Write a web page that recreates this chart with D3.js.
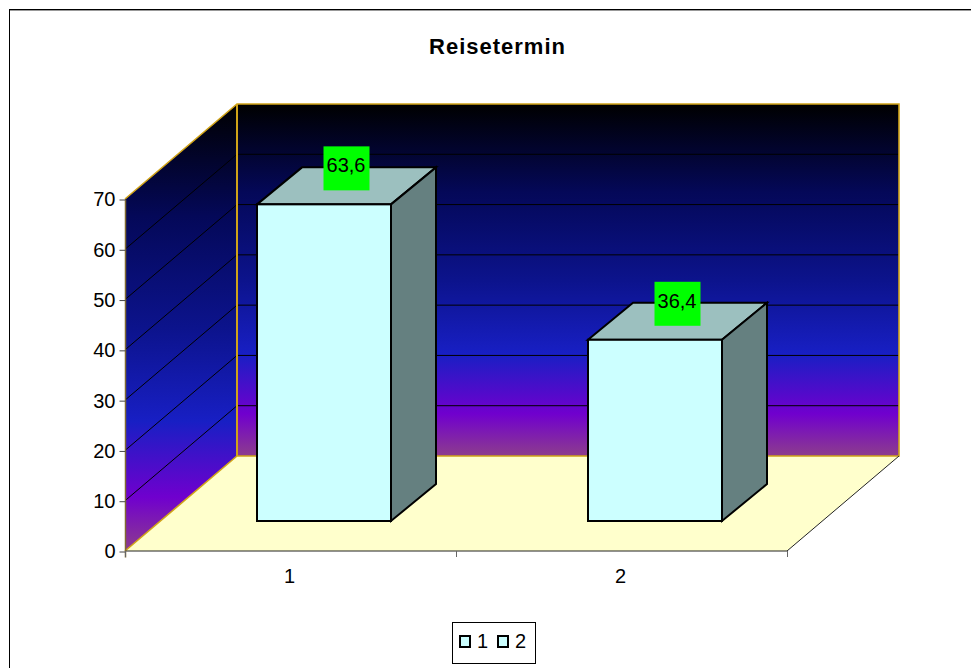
<!DOCTYPE html>
<html>
<head>
<meta charset="utf-8">
<script src="https://cdn.jsdelivr.net/npm/d3@7"></script>
<style>
  html, body { margin: 0; padding: 0; background: #fff; overflow: hidden; }
  text { font-family: "Liberation Sans", Arial, sans-serif; fill: #000; }
</style>
</head>
<body>
<script>
const chartTitle = 'Reisetermin';
const categories = ['1', '2'];
const values = [63.6, 36.4];
const valueLabels = ['63,6', '36,4'];
const yTicks = [0, 10, 20, 30, 40, 50, 60, 70];
const legendItems = ['1', '2'];

const width = 971;
const height = 668;

// projection of the box: front edge + depth offset to the back wall
const depthX = 112;
const depthY = -95;
const barDepthX = 45;
const barDepthY = -37;
const gold = '#d0a318';

const svg = d3.select('body').append('svg')
  .attr('width', width)
  .attr('height', height);

const defs = svg.append('defs');
const wall = defs.append('linearGradient')
  .attr('id', 'wall')
  .attr('x1', 0).attr('y1', 0).attr('x2', 0).attr('y2', 1);
[
  [0, '#000000'],
  [0.25, '#040858'],
  [0.5, '#0c138c'],
  [0.71, '#181fc4'],
  [0.88, '#7000ce'],
  [1, '#8d3d8d'],
].forEach(([o, c]) => wall.append('stop').attr('offset', o).attr('stop-color', c));

// outer frame runs off the right and bottom of the page
svg.append('rect')
  .attr('x', 9.5).attr('y', 9.5)
  .attr('width', 1000).attr('height', 700)
  .attr('fill', '#fff').attr('stroke', '#000');
svg.append('line')
  .attr('x1', 10).attr('x2', width)
  .attr('y1', 10.5).attr('y2', 10.5)
  .attr('stroke', '#999');

svg.append('text')
  .attr('x', 497.5).attr('y', 53.5)
  .attr('text-anchor', 'middle')
  .attr('font-size', 22).attr('font-weight', 'bold')
  .attr('letter-spacing', 1)
  .text(chartTitle);

const x = d3.scaleBand().domain(categories).range([125, 787]);
const y = d3.scaleLinear().domain([0, 70]).range([551, 199]);
const bar = d3.scaleLinear().domain([0, 70]).range([521, 172.5]);
const line = d3.line();

const x0 = x.range()[0];
const x1 = x.range()[1];
const g = svg.append('g');

// back wall, side wall, floor
g.append('path')
  .attr('d', line([
    [x0 + depthX, y(70) + depthY],
    [x1 + depthX, y(70) + depthY],
    [x1 + depthX, y(0) + depthY],
    [x0 + depthX, y(0) + depthY],
  ]) + 'Z')
  .attr('fill', 'url(#wall)');
g.append('path')
  .attr('d', line([
    [x0, y(70)],
    [x0 + depthX, y(70) + depthY],
    [x0 + depthX, y(0) + depthY],
    [x0, y(0)],
  ]) + 'Z')
  .attr('fill', 'url(#wall)');
g.append('path')
  .attr('d', line([
    [x0, y(0)],
    [x0 + depthX, y(0) + depthY],
    [x1 + depthX, y(0) + depthY],
    [x1, y(0)],
  ]) + 'Z')
  .attr('fill', '#ffffcc');

// gridlines
yTicks.filter((t) => t > 0 && t < 70).forEach((t) => {
  g.append('path')
    .attr('d', line([
      [x0, y(t)],
      [x0 + depthX, y(t) + depthY],
      [x1 + depthX, y(t) + depthY],
    ]))
    .attr('fill', 'none').attr('stroke', '#000').attr('stroke-width', 1);
});

// wall outline
g.append('path')
  .attr('d', line([
    [x0, y(70)],
    [x0 + depthX, y(70) + depthY],
    [x1 + depthX, y(70) + depthY],
    [x1 + depthX, y(0) + depthY],
    [x0 + depthX, y(0) + depthY],
    [x0, y(0)],
  ]))
  .attr('fill', 'none').attr('stroke', gold).attr('stroke-width', 1.6);
g.append('path')
  .attr('d', line([
    [x0 + depthX, y(70) + depthY],
    [x0 + depthX, y(0) + depthY],
  ]))
  .attr('stroke', gold).attr('stroke-width', 2);

// floor front and right edges
g.append('path')
  .attr('d', line([
    [x0, y(0)],
    [x1, y(0)],
    [x1 + depthX, y(0) + depthY],
  ]))
  .attr('fill', 'none').attr('stroke', '#222').attr('stroke-width', 1);

// y axis and category axis ticks
const yAxis = d3.axisLeft(y).tickValues(yTicks).tickSize(6).tickPadding(4);
const yG = svg.append('g').attr('transform', 'translate(125.5,0.5)').call(yAxis);
yG.select('.domain').attr('stroke', '#806a30').attr('stroke-width', 1.5).attr('d', `M0,${y(70)}V${y(0) + 6}`);
yG.selectAll('.tick line').attr('stroke', '#444');
yG.selectAll('text').attr('font-size', 20).attr('font-family', '"Liberation Sans", Arial, sans-serif');

const xAxis = d3.axisBottom(x).tickSize(0).tickPadding(17);
const xG = svg.append('g').attr('transform', `translate(0.5,${y(0) + 0.5})`).call(xAxis);
xG.select('.domain').remove();
xG.selectAll('text').attr('font-size', 20).attr('dx', -1.5).attr('font-family', '"Liberation Sans", Arial, sans-serif');
svg.append('g').selectAll('line').data([x0, x0 + x.step(), x1]).enter().append('line')
  .attr('x1', (d) => d + 0.5).attr('x2', (d) => d + 0.5)
  .attr('y1', y(0)).attr('y2', y(0) + 6)
  .attr('stroke', '#666');

// bars
const bars = svg.append('g').selectAll('g').data(values).enter().append('g');
const barLeft = 132;
const barW = 134;
const barX = (i) => x(categories[i]) + barLeft;

bars.append('path')
  .attr('d', (d, i) => line([
    [barX(i), bar(d)],
    [barX(i) + barDepthX, bar(d) + barDepthY],
    [barX(i) + barW + barDepthX, bar(d) + barDepthY],
    [barX(i) + barW, bar(d)],
  ]) + 'Z')
  .attr('fill', '#9cc0bf').attr('stroke', '#000').attr('stroke-width', 2);
bars.append('path')
  .attr('d', (d, i) => line([
    [barX(i) + barW, bar(d)],
    [barX(i) + barW + barDepthX, bar(d) + barDepthY],
    [barX(i) + barW + barDepthX, bar(0) + barDepthY],
    [barX(i) + barW, bar(0)],
  ]) + 'Z')
  .attr('fill', '#658080').attr('stroke', '#000').attr('stroke-width', 2);
bars.append('rect')
  .attr('x', (d, i) => barX(i))
  .attr('y', (d) => bar(d))
  .attr('width', barW)
  .attr('height', (d) => bar(0) - bar(d))
  .attr('fill', '#ccffff').attr('stroke', '#000').attr('stroke-width', 2);

// value labels on green boxes
const labelW = 46;
const labelH = 44;
bars.append('rect')
  .attr('x', (d, i) => barX(i) + 66.5)
  .attr('y', (d) => bar(d) + barDepthY - 21)
  .attr('width', labelW).attr('height', labelH)
  .attr('fill', '#00ff00');
bars.append('text')
  .attr('x', (d, i) => barX(i) + 66.5 + labelW / 2 - 0.5)
  .attr('y', (d) => bar(d) + barDepthY + 5)
  .attr('text-anchor', 'middle')
  .attr('font-size', 20)
  .text((d, i) => valueLabels[i]);

// legend
const legend = svg.append('g');
legend.append('rect')
  .attr('x', 452.5).attr('y', 622.5)
  .attr('width', 83).attr('height', 41)
  .attr('fill', '#fff').attr('stroke', '#000');
const legendX = d3.scalePoint().domain(legendItems).range([460, 498]);
legendItems.forEach((d) => {
  legend.append('rect')
    .attr('x', legendX(d)).attr('y', 636)
    .attr('width', 10).attr('height', 11)
    .attr('fill', '#ccffff').attr('stroke', '#000').attr('stroke-width', 2);
  legend.append('text')
    .attr('x', legendX(d) + 17).attr('y', 648)
    .attr('font-size', 20)
    .text(d);
});
</script>
</body>
</html>
